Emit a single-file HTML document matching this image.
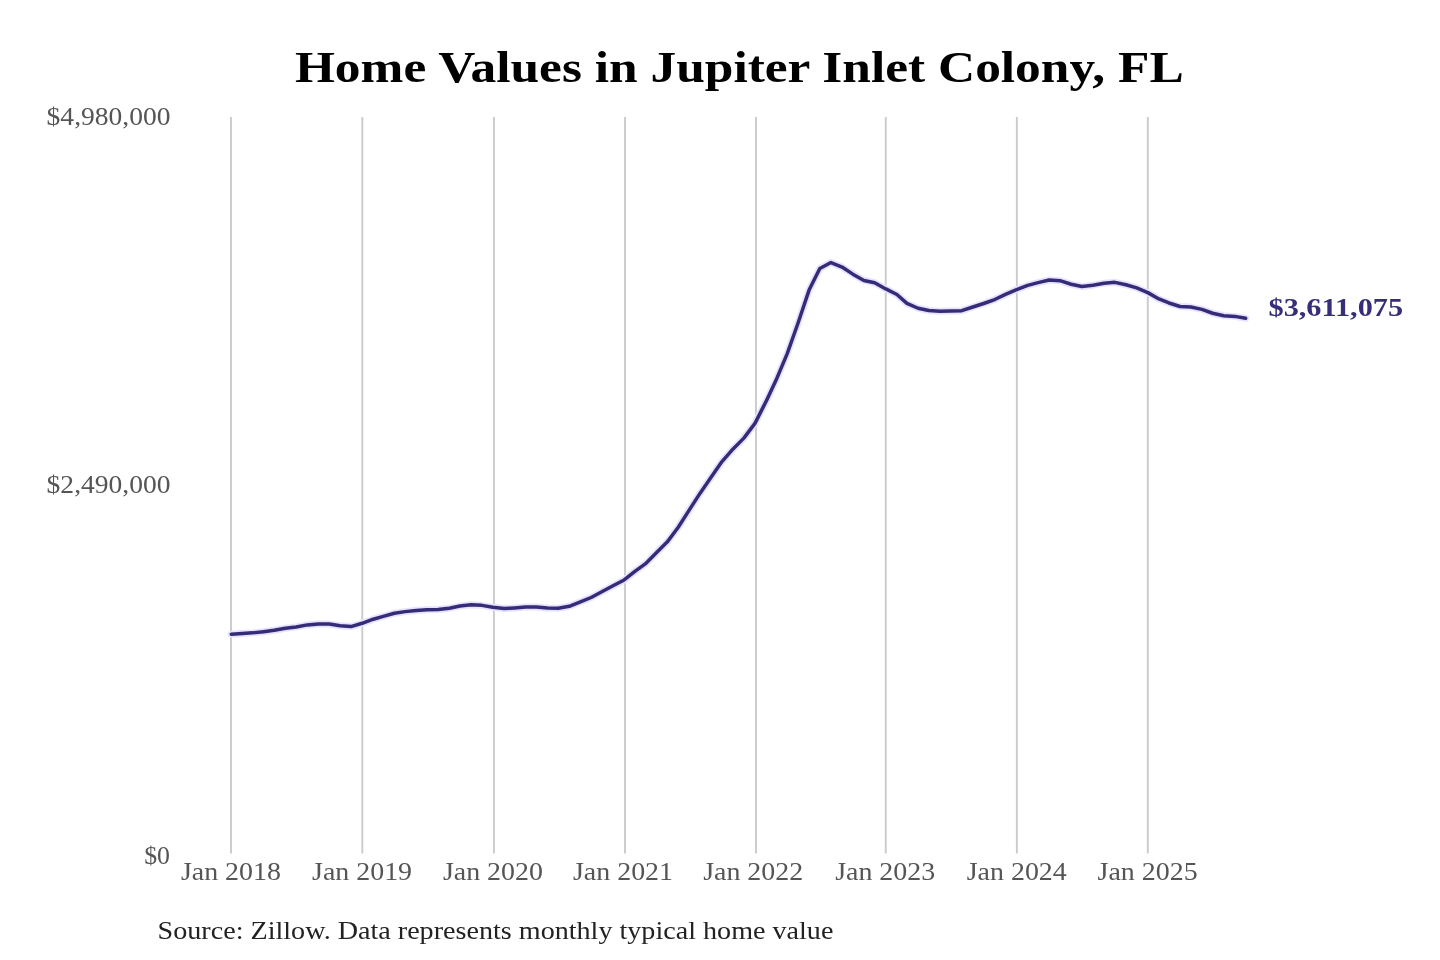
<!DOCTYPE html>
<html><head><meta charset="utf-8"><style>
html,body{margin:0;padding:0;background:#fff;width:1440px;height:960px;overflow:hidden}
svg{display:block;filter:blur(0.35px)}
text{font-family:"Liberation Serif",serif}
.ax{font-size:25.3px;fill:#555}
.yl{font-size:25px;fill:#555}
.title{font-size:43.5px;font-weight:bold;fill:#000}
.src{font-size:26px;fill:#222}
.lab{font-size:24.5px;font-weight:bold;fill:#362e78}
</style></head><body>
<svg width="1440" height="960" viewBox="0 0 1440 960">
<rect width="1440" height="960" fill="#fff"/>
<text x="739.3" y="81.7" text-anchor="middle" class="title" textLength="888.8" lengthAdjust="spacingAndGlyphs">Home Values in Jupiter Inlet Colony, FL</text>
<rect x="230.05" y="117" width="1.9" height="736.5" fill="#cbcbcb"/>
<rect x="361.35" y="117" width="1.9" height="736.5" fill="#cbcbcb"/>
<rect x="492.95" y="117" width="1.9" height="736.5" fill="#cbcbcb"/>
<rect x="624.05" y="117" width="1.9" height="736.5" fill="#cbcbcb"/>
<rect x="755.05" y="117" width="1.9" height="736.5" fill="#cbcbcb"/>
<rect x="884.80" y="117" width="1.9" height="736.5" fill="#cbcbcb"/>
<rect x="1015.90" y="117" width="1.9" height="736.5" fill="#cbcbcb"/>
<rect x="1146.85" y="117" width="1.9" height="736.5" fill="#cbcbcb"/>
<text x="170.5" y="124.8" text-anchor="end" class="yl" textLength="123.9" lengthAdjust="spacingAndGlyphs">$4,980,000</text>
<text x="170.5" y="493" text-anchor="end" class="yl" textLength="123.9" lengthAdjust="spacingAndGlyphs">$2,490,000</text>
<text x="170" y="863.7" text-anchor="end" class="yl" textLength="25.8" lengthAdjust="spacingAndGlyphs">$0</text>
<text x="230.90" y="879.5" text-anchor="middle" class="ax" textLength="100" lengthAdjust="spacingAndGlyphs">Jan 2018</text>
<text x="362.05" y="879.5" text-anchor="middle" class="ax" textLength="100" lengthAdjust="spacingAndGlyphs">Jan 2019</text>
<text x="492.95" y="879.5" text-anchor="middle" class="ax" textLength="100" lengthAdjust="spacingAndGlyphs">Jan 2020</text>
<text x="623.00" y="879.5" text-anchor="middle" class="ax" textLength="100" lengthAdjust="spacingAndGlyphs">Jan 2021</text>
<text x="753.20" y="879.5" text-anchor="middle" class="ax" textLength="100" lengthAdjust="spacingAndGlyphs">Jan 2022</text>
<text x="885.15" y="879.5" text-anchor="middle" class="ax" textLength="100" lengthAdjust="spacingAndGlyphs">Jan 2023</text>
<text x="1016.75" y="879.5" text-anchor="middle" class="ax" textLength="100" lengthAdjust="spacingAndGlyphs">Jan 2024</text>
<text x="1147.60" y="879.5" text-anchor="middle" class="ax" textLength="100" lengthAdjust="spacingAndGlyphs">Jan 2025</text>
<g style="filter:blur(0.45px)">
<path d="M231.29,634.25 L242.40,633.53 L252.44,632.87 L263.55,631.65 L274.30,630.28 L285.41,628.19 L296.16,626.91 L307.28,624.90 L318.39,623.90 L329.14,624.10 L340.25,625.67 L351.00,626.59 L362.12,623.27 L373.23,619.20 L383.26,616.36 L394.38,613.21 L405.13,611.62 L416.24,610.54 L426.99,609.84 L438.10,609.43 L449.22,608.16 L459.97,606.07 L471.08,604.66 L481.83,605.36 L492.94,607.28 L504.06,608.59 L514.45,607.90 L525.56,606.94 L536.31,606.92 L547.43,607.97 L558.18,608.30 L569.29,606.26 L580.40,601.85 L591.15,597.50 L602.27,591.53 L613.02,585.81 L624.13,579.93 L635.24,571.16 L645.28,563.94 L656.39,552.73 L667.14,542.09 L678.25,527.24 L689.01,510.41 L700.12,493.17 L711.23,477.09 L721.98,461.58 L733.09,448.91 L743.85,438.13 L754.96,423.35 L766.07,401.41 L776.10,380.12 L787.22,353.62 L797.97,323.29 L809.08,290.08 L819.83,268.51 L830.94,262.51 L842.06,267.07 L852.81,274.16 L863.92,280.43 L874.67,282.75 L885.79,288.93 L896.90,294.53 L906.93,303.35 L918.04,308.23 L928.80,310.54 L939.91,311.37 L950.66,310.96 L961.77,310.64 L972.88,306.98 L983.64,303.49 L994.75,299.53 L1005.50,294.37 L1016.61,289.57 L1027.72,285.42 L1038.12,282.63 L1049.23,280.01 L1059.98,280.65 L1071.09,284.25 L1081.85,286.57 L1092.96,285.17 L1104.07,283.16 L1114.82,282.34 L1125.93,284.73 L1136.69,287.90 L1147.80,292.61 L1158.91,298.96 L1168.95,302.97 L1180.06,306.54 L1190.81,307.07 L1201.92,309.40 L1212.67,313.27 L1223.79,315.72 L1234.90,316.38 L1245.65,318.33" fill="none" stroke="#e6e2ff" stroke-width="7" stroke-linejoin="round" stroke-linecap="round"/>
<path d="M231.29,634.25 L242.40,633.53 L252.44,632.87 L263.55,631.65 L274.30,630.28 L285.41,628.19 L296.16,626.91 L307.28,624.90 L318.39,623.90 L329.14,624.10 L340.25,625.67 L351.00,626.59 L362.12,623.27 L373.23,619.20 L383.26,616.36 L394.38,613.21 L405.13,611.62 L416.24,610.54 L426.99,609.84 L438.10,609.43 L449.22,608.16 L459.97,606.07 L471.08,604.66 L481.83,605.36 L492.94,607.28 L504.06,608.59 L514.45,607.90 L525.56,606.94 L536.31,606.92 L547.43,607.97 L558.18,608.30 L569.29,606.26 L580.40,601.85 L591.15,597.50 L602.27,591.53 L613.02,585.81 L624.13,579.93 L635.24,571.16 L645.28,563.94 L656.39,552.73 L667.14,542.09 L678.25,527.24 L689.01,510.41 L700.12,493.17 L711.23,477.09 L721.98,461.58 L733.09,448.91 L743.85,438.13 L754.96,423.35 L766.07,401.41 L776.10,380.12 L787.22,353.62 L797.97,323.29 L809.08,290.08 L819.83,268.51 L830.94,262.51 L842.06,267.07 L852.81,274.16 L863.92,280.43 L874.67,282.75 L885.79,288.93 L896.90,294.53 L906.93,303.35 L918.04,308.23 L928.80,310.54 L939.91,311.37 L950.66,310.96 L961.77,310.64 L972.88,306.98 L983.64,303.49 L994.75,299.53 L1005.50,294.37 L1016.61,289.57 L1027.72,285.42 L1038.12,282.63 L1049.23,280.01 L1059.98,280.65 L1071.09,284.25 L1081.85,286.57 L1092.96,285.17 L1104.07,283.16 L1114.82,282.34 L1125.93,284.73 L1136.69,287.90 L1147.80,292.61 L1158.91,298.96 L1168.95,302.97 L1180.06,306.54 L1190.81,307.07 L1201.92,309.40 L1212.67,313.27 L1223.79,315.72 L1234.90,316.38 L1245.65,318.33" fill="none" stroke="#352c78" stroke-width="3.5" stroke-linejoin="round" stroke-linecap="round"/>
</g>
<text x="1268.5" y="316" class="lab" textLength="134.6" lengthAdjust="spacingAndGlyphs">$3,611,075</text>
<text x="157.6" y="939" class="src" textLength="675.8" lengthAdjust="spacingAndGlyphs">Source: Zillow. Data represents monthly typical home value</text>
</svg>
</body></html>
